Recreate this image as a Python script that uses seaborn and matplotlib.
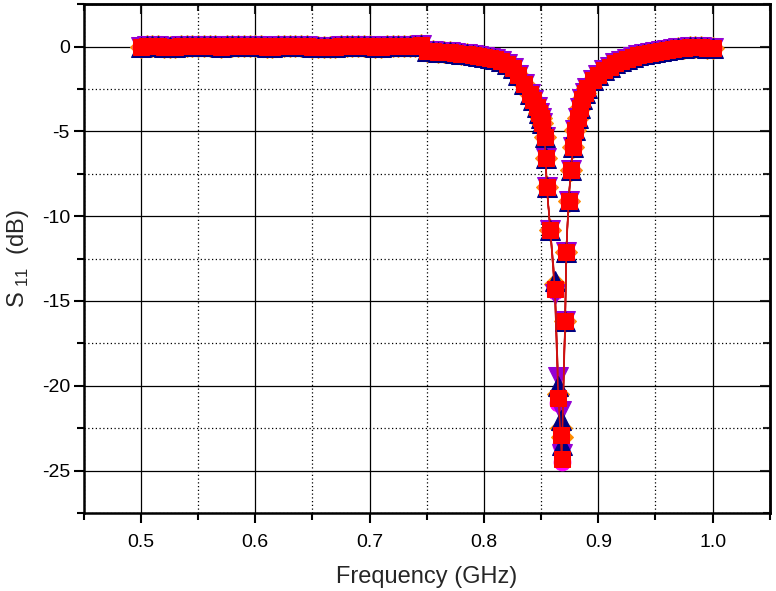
import matplotlib
matplotlib.use("Agg")
import matplotlib.pyplot as plt
import seaborn as sns
import pandas as pd
from matplotlib.ticker import MultipleLocator

# ---- data ----
freq = [0.500, 0.505, 0.510, 0.515, 0.520, 0.525, 0.530, 0.535, 0.540, 0.545,
        0.550, 0.555, 0.560, 0.565, 0.570, 0.575, 0.580, 0.585, 0.590, 0.595,
        0.600, 0.605, 0.610, 0.615, 0.620, 0.625, 0.630, 0.635, 0.640, 0.645,
        0.650, 0.655, 0.660, 0.665, 0.670, 0.675, 0.680, 0.685, 0.690, 0.695,
        0.700, 0.705, 0.710, 0.715, 0.720, 0.725, 0.730, 0.735, 0.740, 0.745,
        0.750, 0.755, 0.760, 0.765, 0.770, 0.775, 0.780, 0.785, 0.790, 0.795,
        0.800, 0.805, 0.810, 0.815, 0.820, 0.825, 0.830, 0.835,
        0.840, 0.843, 0.846, 0.848, 0.850, 0.851, 0.853, 0.854, 0.855, 0.858,
        0.862, 0.865, 0.867, 0.868, 0.871, 0.872, 0.874, 0.876, 0.878, 0.880,
        0.882, 0.884, 0.886, 0.888, 0.890, 0.895, 0.900, 0.905, 0.910, 0.915,
        0.920, 0.925, 0.930, 0.935, 0.940, 0.945, 0.950, 0.955, 0.960, 0.965,
        0.970, 0.975, 0.980, 0.985, 0.990, 0.995, 1.000]
s11 = [0.00, 0.01, 0.02, 0.01, 0.00, -0.01, -0.02, 0.01, 0.03, 0.04,
       0.05, 0.04, 0.02, 0.01, 0.00, 0.02, 0.03, 0.04, 0.05, 0.03,
       0.02, 0.01, 0.00, 0.00, 0.01, 0.02, 0.03, 0.03, 0.02, 0.01,
       0.00, -0.01, -0.02, -0.01, 0.00, 0.01, 0.02, 0.03, 0.03, 0.02,
       0.01, 0.00, 0.00, 0.01, 0.02, 0.03, 0.03, 0.04, 0.05, 0.08,
       -0.25, -0.28, -0.30, -0.32, -0.35, -0.38, -0.42, -0.46, -0.50, -0.55,
       -0.60, -0.66, -0.74, -0.86, -1.02, -1.28, -1.68, -2.20,
       -2.80, -3.15, -3.55, -3.90, -4.20, -4.50, -5.35, -6.60, -8.30, -10.80,
       -14.30, -20.70, -22.90, -24.30, -16.20, -12.10, -9.10, -7.30, -5.90, -4.90,
       -4.20, -3.60, -3.10, -2.75, -2.45, -2.00, -1.66, -1.40, -1.18, -0.98,
       -0.85, -0.72, -0.60, -0.52, -0.45, -0.37, -0.30, -0.25, -0.20, -0.15,
       -0.10, -0.07, -0.05, -0.04, -0.05, -0.06, -0.10]

# frequencies where the overlapping repeat measurements differ (resonance)
dip_freq = [0.862, 0.865, 0.867, 0.868]
series_dips = {
    "darkorange": [-14.0, -20.5, -22.5, -23.0],
    "magenta":    [-14.4, -21.0, -23.5, -24.5],
    "darkviolet": [-14.6, -19.5, -21.5, -24.0],
    "navy":       [-13.8, -20.0, -22.0, -23.5],
}
series_markers = {"navy": "^", "darkviolet": "v", "darkorange": "D", "magenta": "o"}
series_sizes = {"navy": 14, "darkviolet": 14, "darkorange": 11, "magenta": 12}

xticks = [0.5, 0.6, 0.7, 0.8, 0.9, 1.0]
yticks = [0, -5, -10, -15, -20, -25]

# ---- style ----
sns.set_theme(style="white")
plt.rcParams["font.family"] = ["Liberation Sans", "DejaVu Sans"]
plt.rcParams["axes.unicode_minus"] = False
plt.rcParams["mathtext.fontset"] = "custom"
plt.rcParams["mathtext.rm"] = "Liberation Sans"

fig = plt.figure(figsize=(7.76, 5.91), dpi=100)
ax = fig.add_axes([0.108, 0.132, 0.884, 0.861])

base = pd.DataFrame({"f": freq, "s": s11})

for color, dips in series_dips.items():
    d = base.copy()
    for fval, sval in zip(dip_freq, dips):
        d.loc[(d["f"] - fval).abs() < 1e-9, "s"] = sval
    sns.lineplot(data=d, x="f", y="s", ax=ax, sort=False, estimator=None,
                 color="#c01818", linewidth=1.0, marker=series_markers[color],
                 markersize=series_sizes[color], markerfacecolor=color,
                 markeredgecolor=color, zorder=3)

sns.lineplot(data=base, x="f", y="s", ax=ax, sort=False, estimator=None,
             color="#d01010", linewidth=1.2, marker="s", markersize=12,
             markerfacecolor="#ff0000", markeredgecolor="#ff0000", zorder=4)

ax.set_xlim(0.45, 1.05)
ax.set_ylim(-27.5, 2.5)
ax.set_xticks(xticks)
ax.set_xticklabels([f"{v:.1f}" for v in xticks])
ax.set_yticks(yticks)
ax.set_yticklabels([str(v) for v in yticks])
ax.xaxis.set_minor_locator(MultipleLocator(0.05))
ax.yaxis.set_minor_locator(MultipleLocator(2.5))

ax.grid(True, which="major", color="black", linewidth=0.9, linestyle="-", zorder=0)
ax.grid(True, which="minor", color="black", linewidth=0.9, linestyle=(0, (1, 2)), zorder=0)
ax.set_axisbelow(True)

for sp in ax.spines.values():
    sp.set_visible(True)
    sp.set_color("black")
    sp.set_linewidth(1.8)

ax.tick_params(axis="both", which="both", colors="black", labelsize=14)
ax.tick_params(axis="x", which="major", direction="out", length=7, width=1.5,
               bottom=True, top=False, pad=8)
ax.tick_params(axis="x", which="minor", direction="out", length=5, width=1.5,
               bottom=True, top=False)
ax.tick_params(axis="y", which="major", direction="out", length=7, width=1.5,
               left=True, right=False, pad=3)
ax.tick_params(axis="y", which="minor", direction="out", length=5, width=1.5,
               left=True, right=False)

secx = ax.secondary_xaxis("top")
secx.set_xticks(xticks)
secx.xaxis.set_minor_locator(MultipleLocator(0.05))
secx.tick_params(which="major", direction="in", length=7, width=1.5, labeltop=False)
secx.tick_params(which="minor", direction="in", length=5, width=1.5)
secx.spines["top"].set_linewidth(1.8)
secy = ax.secondary_yaxis("right")
secy.set_yticks(yticks)
secy.yaxis.set_minor_locator(MultipleLocator(2.5))
secy.tick_params(which="major", direction="in", length=7, width=1.5, labelright=False)
secy.tick_params(which="minor", direction="in", length=5, width=1.5)
secy.spines["right"].set_linewidth(1.8)

ax.set_xlabel("Frequency (GHz)", fontsize=17, labelpad=11)
ax.set_ylabel("S$_{\\ 11}$  (dB)", fontsize=17, labelpad=8)

fig.savefig("out.png", dpi=100)
